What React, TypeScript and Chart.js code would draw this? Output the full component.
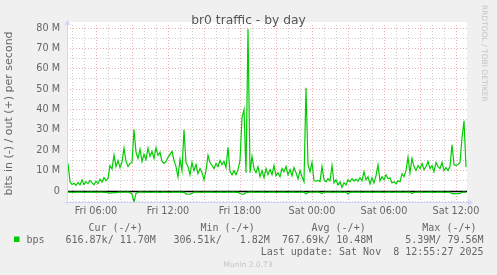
import React, { useEffect, useRef } from 'react';
import { Chart, registerables } from 'chart.js';

Chart.register(...registerables);

// ---- data ----
const TITLE = 'br0 traffic - by day';
const Y_TITLE = 'bits in (-) / out (+) per second';
const START_HOUR = 3 + 40 / 60; // Fri 03:40 (hours since Fri 00:00)
const STEP_HOURS = 10 / 60;
const X_MIN = 3 + 35 / 60; // Fri 03:35
const X_MAX = 36 + 55 / 60; // Sat 12:55

// out (+), Mbit/s
const outMbps = [
  13.5, 4.5, 3.2, 3.8, 2.8, 4.2, 3.0, 5.5, 3.2, 4.5, 3.6, 5.2, 4.0, 3.1, 4.8, 3.6, 5.8, 4.4, 6.6, 5.0,
  6.2, 12.5, 10.8, 17.6, 12.0, 15.0, 11.5, 14.2, 21.0, 14.5, 12.0, 13.5, 14.0, 30.2, 19.0, 16.0, 20.5, 14.5, 18.0, 15.5,
  21.0, 17.0, 19.5, 16.0, 21.2, 17.5, 19.0, 14.5, 13.5, 14.5, 16.5, 18.0, 19.5, 15.0, 12.0, 7.0, 15.5, 10.0, 30.0, 14.0,
  12.0, 8.0, 14.0, 10.0, 13.0, 8.5, 11.0, 9.0, 5.5, 10.0, 17.5, 14.0, 12.5, 11.0, 13.5, 12.0, 15.0, 13.0, 14.5, 11.5,
  21.5, 9.5, 8.0, 10.0, 8.0, 10.5, 15.0, 36.0, 40.0, 9.0, 79.56, 9.0, 17.0, 11.0, 9.0, 12.0, 7.0, 10.0, 6.5, 11.0,
  8.0, 10.5, 8.0, 12.5, 7.5, 9.0, 7.0, 11.0, 9.5, 12.0, 8.0, 10.5, 7.5, 11.5, 9.0, 6.0, 10.0, 7.0, 4.5, 50.7,
  13.0, 9.5, 14.0, 5.0, 4.8, 5.2, 4.6, 12.0, 5.5, 4.5, 6.0, 5.0, 12.5, 4.0, 5.5, 3.0, 4.5, 1.82, 4.0, 3.0,
  5.5, 4.5, 6.0, 5.0, 5.8, 4.8, 6.5, 5.0, 9.5, 5.5, 7.0, 3.5, 6.5, 4.0, 7.5, 12.8, 5.0, 7.0, 5.5, 8.0,
  6.0, 6.5, 4.0, 4.5, 3.5, 5.0, 4.5, 8.5, 7.0, 10.0, 16.5, 9.0, 16.0, 12.0, 10.0, 12.5, 11.0, 13.5, 10.5, 12.0,
  14.5, 11.0, 12.5, 9.5, 14.0, 12.0, 11.0, 14.0, 10.0, 11.5, 10.0, 12.0, 22.7, 13.0, 12.5, 13.0, 14.0, 26.0, 34.5, 11.7,
];

// in (-), Mbit/s (drawn below zero)
const inMbps = [
  0.6, 0.5, 0.6, 0.7, 0.5, 0.6, 0.6, 0.5, 0.7, 0.6, 0.5, 0.6, 0.6, 0.7, 0.5, 0.6, 0.6, 0.5, 0.7, 0.6,
  0.9, 1.0, 0.9, 0.8, 0.8, 0.7, 0.6, 0.6, 0.5, 0.6, 0.6, 0.7, 1.5, 5.39, 1.2, 0.7, 0.6, 0.6, 0.5, 0.6,
  0.6, 0.7, 0.6, 0.5, 0.6, 0.6, 0.8, 0.6, 0.6, 0.5, 0.6, 0.7, 0.6, 0.6, 0.5, 0.6, 0.6, 0.7, 0.6, 1.4,
  1.6, 1.5, 1.2, 0.6, 0.6, 0.5, 0.6, 0.7, 0.6, 0.6, 0.5, 0.6, 0.6, 0.7, 0.6, 0.5, 0.6, 0.6, 0.7, 0.6,
  0.6, 0.5, 0.6, 0.6, 0.7, 0.6, 1.2, 1.6, 1.5, 0.8, 0.6, 0.5, 0.6, 0.6, 0.7, 0.6, 0.5, 0.6, 0.6, 0.7,
  0.6, 0.5, 0.6, 0.6, 0.7, 0.6, 0.5, 0.6, 0.6, 0.7, 0.6, 0.5, 0.6, 0.6, 0.7, 0.6, 0.5, 0.6, 0.6, 1.4,
  0.8, 0.6, 0.6, 0.5, 0.6, 0.6, 0.7, 1.3, 0.6, 0.5, 0.6, 0.6, 0.7, 0.6, 0.5, 0.6, 0.6, 0.7, 0.6, 0.5,
  1.6, 0.7, 0.6, 0.6, 0.5, 0.6, 0.6, 0.7, 0.6, 0.5, 0.6, 0.6, 0.7, 0.6, 0.5, 0.6, 0.6, 0.7, 0.6, 0.5,
  0.6, 0.6, 0.7, 0.6, 0.5, 0.6, 0.6, 0.7, 0.6, 0.5, 0.6, 0.6, 1.3, 0.7, 0.6, 0.5, 0.6, 0.6, 0.7, 0.6,
  0.5, 0.6, 0.6, 0.7, 0.6, 0.5, 0.6, 0.6, 0.7, 0.6, 0.5, 0.6, 1.3, 1.3, 1.3, 1.3, 1.2, 0.7, 0.6, 0.62,
];

const times = outMbps.map((_, i) => START_HOUR + i * STEP_HOURS);

const xGridHours = [4, 5, 6, 7, 8, 9, 10, 11, 12, 13, 14, 15, 16, 17, 18, 19, 20, 21, 22, 23, 24, 25, 26, 27, 28, 29, 30, 31, 32, 33, 34, 35, 36];
const xLabelHours = [6, 12, 18, 24, 30, 36];
const xLabelTexts = ['Fri 06:00', 'Fri 12:00', 'Fri 18:00', 'Sat 00:00', 'Sat 06:00', 'Sat 12:00'];
const yTicks = [-5, 0, 5, 10, 15, 20, 25, 30, 35, 40, 45, 50, 55, 60, 65, 70, 75, 80];

const legendName = 'bps';
const legendHeaders = ['Cur (-/+)', 'Min (-/+)', 'Avg (-/+)', 'Max (-/+)'];
const legendValues = ['616.87k/ 11.70M', '306.51k/   1.82M', '767.69k/ 10.48M', '5.39M/ 79.56M'];
const lastUpdate = 'Last update: Sat Nov  8 12:55:27 2025';
const version = 'Munin 2.0.73';
const watermark = 'RRDTOOL / TOBI OETIKER';

// ---- styles ----
const GREEN = '#00CC00';
const BACK = '#F0F0F0';
const FONT = '#666666';
const MAJOR = 'rgba(222,79,79,0.45)';
const MINOR = 'rgba(143,143,143,0.45)';
const AXIS = '#CFD6F8';
const FAINT = '#C4C4C4';

const decoPlugin = {
  id: 'muninDeco',
  beforeDraw(chart: any) {
    const { ctx, chartArea: a } = chart;
    ctx.save();
    ctx.fillStyle = BACK;
    ctx.fillRect(0, 0, chart.width, chart.height);
    ctx.fillStyle = '#FFFFFF';
    ctx.fillRect(a.left, a.top - 3, a.right - a.left, a.bottom - a.top + 3);
    ctx.restore();
  },
  beforeDatasetsDraw(chart: any) {
    const { ctx, chartArea: a } = chart;
    const y0 = Math.round(chart.scales.y.getPixelForValue(0)) + 0.5;
    ctx.save();
    ctx.strokeStyle = '#000000';
    ctx.lineWidth = 1.5;
    ctx.beginPath();
    ctx.moveTo(a.left, y0);
    ctx.lineTo(a.right, y0);
    ctx.stroke();
    ctx.restore();
  },
  afterDraw(chart: any) {
    const { ctx, chartArea: a } = chart;
    ctx.save();
    // axes with arrows
    ctx.strokeStyle = AXIS;
    ctx.fillStyle = AXIS;
    ctx.lineWidth = 1;
    const ax = a.left + 0.5;
    const ay = a.bottom + 0.5;
    ctx.beginPath();
    ctx.moveTo(ax, a.bottom + 3);
    ctx.lineTo(ax, a.top - 2);
    ctx.moveTo(a.left - 3, ay);
    ctx.lineTo(a.right + 3, ay);
    ctx.stroke();
    ctx.beginPath();
    ctx.moveTo(ax, a.top - 5);
    ctx.lineTo(ax - 3, a.top);
    ctx.lineTo(ax + 3, a.top);
    ctx.closePath();
    ctx.fill();
    ctx.beginPath();
    ctx.moveTo(a.right + 6, ay);
    ctx.lineTo(a.right + 1, ay - 3);
    ctx.lineTo(a.right + 1, ay + 3);
    ctx.closePath();
    ctx.fill();

    // title
    ctx.fillStyle = '#555555';
    ctx.font = '12.3px "DejaVu Sans"';
    ctx.textAlign = 'center';
    ctx.textBaseline = 'alphabetic';
    ctx.fillText(TITLE, 248.5, 23.5);

    // legend
    ctx.fillStyle = FONT;
    ctx.font = '10px "DejaVu Sans Mono"';
    ctx.textAlign = 'left';
    const headerX = [88.5, 200.5, 311.5];
    legendHeaders.forEach((h, i) => {
      if (i < 3) {
        ctx.textAlign = 'left';
        ctx.fillText(h, headerX[i], 230.5);
      } else {
        ctx.textAlign = 'right';
        ctx.fillText(h, 476.5, 230.5);
      }
    });
    ctx.textAlign = 'left';
    ctx.fillText(legendName, 26.5, 242.5);
    const valueX = [65.5, 173.5, 282];
    legendValues.forEach((v, i) => {
      if (i < 3) {
        ctx.textAlign = 'left';
        ctx.fillText(v, valueX[i], 242.5);
      } else {
        ctx.textAlign = 'right';
        ctx.fillText(v, 483.5, 242.5);
      }
    });
    ctx.textAlign = 'right';
    ctx.fillText(lastUpdate, 483.5, 254.5);
    ctx.fillStyle = GREEN;
    ctx.fillRect(14, 236.5, 5.5, 5.5);

    // version
    ctx.fillStyle = FAINT;
    ctx.font = '7.5px "DejaVu Sans"';
    ctx.textAlign = 'center';
    ctx.fillText(version, 248, 266.5);

    // watermark
    ctx.translate(483.5, 5);
    ctx.rotate(Math.PI / 2);
    ctx.textAlign = 'left';
    ctx.textBaseline = 'middle';
    ctx.font = '7.5px "DejaVu Sans"';
    ctx.fillText(watermark, 0, 0);
    ctx.restore();
  },
};

export default function App() {
  const ref = useRef<HTMLCanvasElement>(null);

  useEffect(() => {
    const canvas = ref.current;
    if (!canvas) return;
    const chart = new Chart(canvas, {
      type: 'line',
      data: {
        datasets: [
          {
            label: 'bps out',
            data: outMbps.map((v, i) => ({ x: times[i], y: v })),
            borderColor: GREEN,
            borderWidth: 1.2,
            pointRadius: 0,
            fill: false,
            tension: 0,
          },
          {
            label: 'bps in',
            data: inMbps.map((v, i) => ({ x: times[i], y: -v })),
            borderColor: GREEN,
            borderWidth: 1.2,
            pointRadius: 0,
            fill: false,
            tension: 0,
          },
        ],
      },
      options: {
        responsive: false,
        animation: false,
        devicePixelRatio: 1,
        events: [],
        layout: { padding: { left: 0, top: 25, right: 30, bottom: 53 } },
        plugins: {
          legend: { display: false },
          tooltip: { enabled: false },
          title: { display: false },
        },
        scales: {
          x: {
            type: 'linear',
            min: X_MIN,
            max: X_MAX,
            afterBuildTicks: (s: any) => {
              s.ticks = xGridHours.map((v) => ({ value: v }));
            },
            afterFit: (s: any) => {
              s.height = 20;
            },
            grid: {
              color: (c: any) => (c.tick && c.tick.value % 3 === 0 ? MAJOR : MINOR),
              drawTicks: false,
              lineWidth: 1,
            },
            border: { display: false, dash: [1, 2] },
            ticks: {
              autoSkip: false,
              maxRotation: 0,
              padding: 4,
              color: FONT,
              font: { family: 'DejaVu Sans', size: 9.7 },
              callback: (v: any) => {
                const idx = xLabelHours.indexOf(Number(v));
                return idx >= 0 ? xLabelTexts[idx] : '';
              },
            },
          },
          y: {
            type: 'linear',
            min: -5.4,
            max: 81.5,
            afterBuildTicks: (s: any) => {
              s.ticks = yTicks.map((v) => ({ value: v }));
            },
            afterFit: (s: any) => {
              s.width = 67;
            },
            grid: {
              color: (c: any) => (c.tick && c.tick.value % 10 === 0 ? MAJOR : MINOR),
              drawTicks: false,
              lineWidth: 1,
            },
            border: { display: false, dash: [1, 2] },
            title: {
              display: true,
              text: Y_TITLE,
              color: FONT,
              font: { family: 'DejaVu Sans', size: 11 },
              padding: { top: 3, bottom: 0 },
            },
            ticks: {
              autoSkip: false,
              padding: 7,
              color: FONT,
              font: { family: 'DejaVu Sans', size: 9.7 },
              callback: (v: any) => {
                const n = Number(v);
                if (n % 10 !== 0 || n < 0) return '';
                return n === 0 ? '0' : `${n} M`;
              },
            },
          },
        },
      },
      plugins: [decoPlugin],
    } as any);
    return () => chart.destroy();
  }, []);

  return (
    <div style={{ position: 'fixed', left: 0, top: 0, width: 497, height: 275 }}>
      <canvas ref={ref} width={497} height={275} style={{ display: 'block', width: 497, height: 275 }} />
    </div>
  );
}
